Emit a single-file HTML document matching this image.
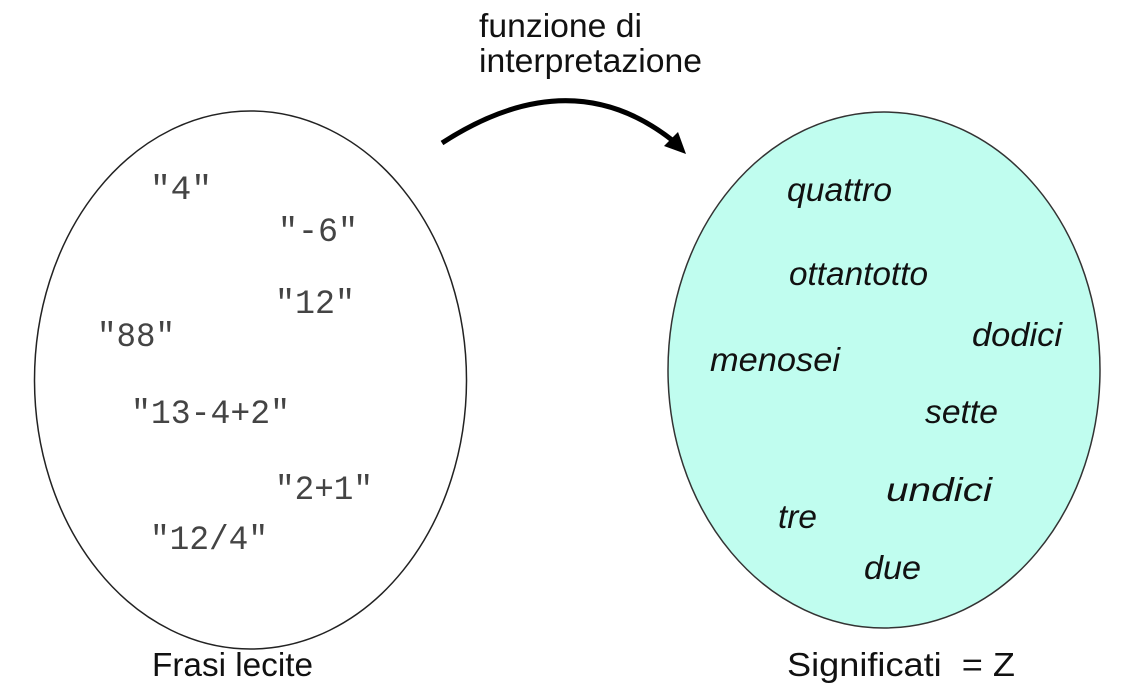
<!DOCTYPE html>
<html><head><meta charset="utf-8"><style>html,body{margin:0;padding:0;background:#fff}svg{display:block}</style></head>
<body>
<svg width="1134" height="694" viewBox="0 0 1134 694" xmlns="http://www.w3.org/2000/svg">
<ellipse cx="250.5" cy="380" rx="216" ry="269" fill="#fff" stroke="#222" stroke-width="1.5"/>
<ellipse cx="884" cy="370" rx="216" ry="258" fill="#c0fdef" stroke="#333" stroke-width="1.5"/>
<path d="M442 143 Q570 60 672 140" fill="none" stroke="#000" stroke-width="5"/>
<polygon points="686,154 664,146 678,132" fill="#000"/>
<g font-family="Liberation Sans, sans-serif" font-size="33" fill="#111">
<text x="479" y="37" textLength="163" lengthAdjust="spacingAndGlyphs">funzione di</text>
<text x="479" y="72" textLength="223" lengthAdjust="spacingAndGlyphs">interpretazione</text>
<text x="152" y="676" textLength="161" lengthAdjust="spacingAndGlyphs">Frasi lecite</text>
<text x="787" y="676" textLength="228" lengthAdjust="spacingAndGlyphs" xml:space="preserve">Significati  = Z</text>
</g>
<g font-family="Liberation Sans, sans-serif" font-style="italic" font-size="33" fill="#111">
<text x="787" y="201" textLength="105" lengthAdjust="spacingAndGlyphs">quattro</text>
<text x="789" y="285" textLength="139" lengthAdjust="spacingAndGlyphs">ottantotto</text>
<text x="972" y="346" textLength="90" lengthAdjust="spacingAndGlyphs">dodici</text>
<text x="710" y="371" textLength="130" lengthAdjust="spacingAndGlyphs">menosei</text>
<text x="925" y="423" textLength="73" lengthAdjust="spacingAndGlyphs">sette</text>
<text x="886" y="501" textLength="106" lengthAdjust="spacingAndGlyphs">undici</text>
<text x="778" y="528" textLength="39" lengthAdjust="spacingAndGlyphs">tre</text>
<text x="864" y="579" textLength="57" lengthAdjust="spacingAndGlyphs">due</text>
</g>
<g font-family="Liberation Mono, monospace" font-size="34" fill="#444">
<text x="150" y="199" textLength="62" lengthAdjust="spacingAndGlyphs">"4"</text>
<text x="278" y="241" textLength="80" lengthAdjust="spacingAndGlyphs">"-6"</text>
<text x="275" y="313" textLength="80" lengthAdjust="spacingAndGlyphs">"12"</text>
<text x="97" y="346" textLength="78" lengthAdjust="spacingAndGlyphs">"88"</text>
<text x="131" y="423" textLength="159" lengthAdjust="spacingAndGlyphs">"13-4+2"</text>
<text x="275" y="499" textLength="98" lengthAdjust="spacingAndGlyphs">"2+1"</text>
<text x="150" y="549" textLength="118" lengthAdjust="spacingAndGlyphs">"12/4"</text>
</g>
</svg>
</body></html>
